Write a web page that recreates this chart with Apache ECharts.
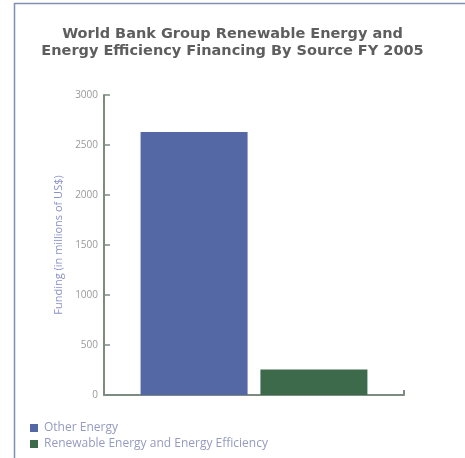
<!DOCTYPE html>
<html><head><meta charset="utf-8">
<script src="https://cdn.jsdelivr.net/npm/echarts@6/dist/echarts.min.js"></script>
<style>html,body{margin:0;padding:0;background:#fff}#c{width:465px;height:458px}</style>
</head><body><div id="c"></div>
<script>
const titleText = "World Bank Group Renewable Energy and\nEnergy Efficiency Financing By Source FY 2005";
const categories = ["FY 2005"];
const seriesNames = ["Other Energy", "Renewable Energy and Energy Efficiency"];
const otherEnergy = [2630];
const renewableEE = [255];
const yTicks = [0, 500, 1000, 1500, 2000, 2500, 3000];
const yAxisName = "Funding (in millions of US$)";

const chart = echarts.init(document.getElementById('c'));
chart.setOption({
  animation: false,
  title: {
    text: titleText, left: 'center', top: 21,
    textStyle: {fontFamily: 'DejaVu Sans', fontWeight: 'bold', fontSize: 14.5, color: '#5e5e5e', lineHeight: 17}
  },
  graphic: [
    {type: 'line', shape: {x1: 14, y1: 3.5, x2: 465, y2: 3.5}, style: {stroke: '#7f8fb0', lineWidth: 1.5}},
    {type: 'line', shape: {x1: 14.5, y1: 3, x2: 14.5, y2: 458}, style: {stroke: '#7f8fb0', lineWidth: 1.5}}
  ],
  legend: {
    orient: 'vertical', left: 25, top: 417, itemWidth: 8, itemHeight: 8, itemGap: 4,
    icon: 'rect', data: seriesNames,
    textStyle: {fontSize: 12, color: '#959bc0', fontFamily: 'Open Sans', padding: [0, 0, 0, 1]}
  },
  grid: {left: 104, right: 61, top: 95, bottom: 63},
  xAxis: {
    type: 'category', data: categories,
    axisLine: {lineStyle: {color: '#7d8c80', width: 2}},
    axisTick: {show: true, inside: true, length: 5, lineStyle: {color: '#7d8c80', width: 2}},
    axisLabel: {show: false}
  },
  yAxis: {
    type: 'value', min: yTicks[0], max: yTicks[yTicks.length - 1], interval: 500,
    name: yAxisName, nameLocation: 'middle', nameGap: 40,
    nameTextStyle: {fontSize: 11, color: '#8a92cc', fontFamily: 'Open Sans'},
    axisLine: {show: true, lineStyle: {color: '#7d8c80', width: 2}},
    axisTick: {show: true, inside: true, length: 6, lineStyle: {color: '#7d8c80', width: 1.5}},
    axisLabel: {fontSize: 10, color: '#999', margin: 6, fontFamily: 'Open Sans',
      formatter: v => String(v)},
    splitLine: {show: false}
  },
  series: [
    {name: seriesNames[0], type: 'bar', data: otherEnergy, barWidth: 107, barGap: '12%',
     itemStyle: {color: '#5468a6'}},
    {name: seriesNames[1], type: 'bar', data: renewableEE, barWidth: 107,
     itemStyle: {color: '#3c6a4a'}}
  ]
});
</script></body></html>
